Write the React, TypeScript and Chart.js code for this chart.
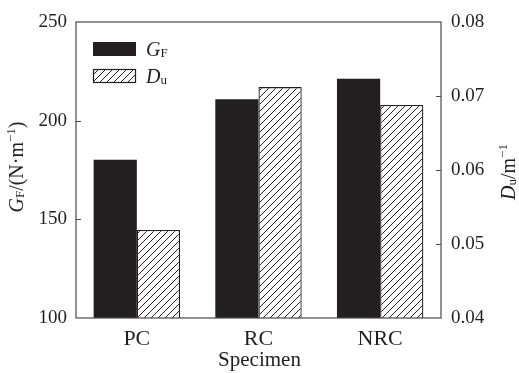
import React, { useEffect, useRef } from "react";
import { Chart, registerables } from "chart.js";

Chart.register(...registerables);

const categories = ["PC", "RC", "NRC"];
const gfValues = [180.2, 210.8, 221.3];
const duValues = [0.0519, 0.0712, 0.0688];
const gfTicks = [100, 150, 200, 250];
const duTicks = [0.04, 0.05, 0.06, 0.07, 0.08];

const INK = "#231f20";
const FRAME = "#4a4a4a";
const SERIF = "'Liberation Serif', 'Times New Roman', serif";

function makeHatch(): CanvasPattern | string {
  const s = 7;
  const c = document.createElement("canvas");
  c.width = s;
  c.height = s;
  const g = c.getContext("2d");
  if (!g) return "#fff";
  g.fillStyle = "#ffffff";
  g.fillRect(0, 0, s, s);
  g.strokeStyle = INK;
  g.lineWidth = 1;
  g.beginPath();
  g.moveTo(-1, s + 1);
  g.lineTo(s + 1, -1);
  g.moveTo(-1, 1);
  g.lineTo(1, -1);
  g.moveTo(s - 1, s + 1);
  g.lineTo(s + 1, s - 1);
  g.stroke();
  const p = g.createPattern(c, "repeat");
  return p || "#fff";
}

type Piece = { t: string; size: number; italic?: boolean; dy?: number };

function drawPieces(ctx: CanvasRenderingContext2D, pieces: Piece[], x: number, y: number, align: "left" | "center") {
  ctx.textBaseline = "alphabetic";
  ctx.textAlign = "left";
  let total = 0;
  const widths = pieces.map((p) => {
    ctx.font = `${p.italic ? "italic " : ""}${p.size}px ${SERIF}`;
    const w = ctx.measureText(p.t).width;
    total += w;
    return w;
  });
  let cx = align === "center" ? x - total / 2 : x;
  pieces.forEach((p, i) => {
    ctx.font = `${p.italic ? "italic " : ""}${p.size}px ${SERIF}`;
    ctx.fillText(p.t, cx, y + (p.dy || 0));
    cx += widths[i];
  });
}

const decorPlugin = {
  id: "decor",
  afterDraw(chart: any) {
    const ctx: CanvasRenderingContext2D = chart.ctx;
    const a = chart.chartArea;
    const ys = chart.scales.y;
    const y1 = chart.scales.y1;
    ctx.save();
    // frame
    ctx.strokeStyle = FRAME;
    ctx.lineWidth = 1.2;
    ctx.strokeRect(a.left, a.top, a.right - a.left, a.bottom - a.top);
    // inward ticks
    ctx.beginPath();
    gfTicks.slice(1, -1).forEach((v) => {
      const py = Math.round(ys.getPixelForValue(v)) + 0.5;
      ctx.moveTo(a.left, py);
      ctx.lineTo(a.left + 5, py);
    });
    duTicks.slice(1, -1).forEach((v) => {
      const py = Math.round(y1.getPixelForValue(v)) + 0.5;
      ctx.moveTo(a.right, py);
      ctx.lineTo(a.right - 5, py);
    });
    ctx.stroke();

    ctx.fillStyle = INK;
    // legend
    const lx = a.left + 17;
    const lw = 43;
    ctx.fillRect(lx, 42, lw, 14);
    const hatch = chart.data.datasets[1].backgroundColor;
    ctx.fillStyle = hatch;
    ctx.fillRect(lx, 69, lw, 14);
    ctx.strokeStyle = INK;
    ctx.lineWidth = 1.2;
    ctx.strokeRect(lx + 0.5, 69.5, lw - 1, 13);
    ctx.fillStyle = INK;
    drawPieces(ctx, [
      { t: "G", size: 20, italic: true },
      { t: "F", size: 13, dy: 1 },
    ], lx + lw + 10, 56, "left");
    drawPieces(ctx, [
      { t: "D", size: 20, italic: true },
      { t: "u", size: 13, dy: 1 },
    ], lx + lw + 10, 83, "left");

    // x title
    ctx.font = `21px ${SERIF}`;
    ctx.textAlign = "center";
    ctx.textBaseline = "alphabetic";
    ctx.fillText("Specimen", (a.left + a.right) / 2 + 1, 366);

    // left title
    ctx.save();
    ctx.translate(23, (a.top + a.bottom) / 2 - 3);
    ctx.rotate(-Math.PI / 2);
    drawPieces(ctx, [
      { t: "G", size: 20, italic: true },
      { t: "F", size: 13, dy: 1 },
      { t: "/(N\u00b7m", size: 20 },
      { t: "\u22121", size: 13, dy: -8 },
      { t: ")", size: 20 },
    ], 0, 0, "center");
    ctx.restore();

    // right title
    ctx.save();
    ctx.translate(515, (a.top + a.bottom) / 2 + 2);
    ctx.rotate(-Math.PI / 2);
    drawPieces(ctx, [
      { t: "D", size: 20, italic: true },
      { t: "u", size: 13, dy: 1 },
      { t: "/m", size: 20 },
      { t: "\u22121", size: 13, dy: -8 },
    ], 0, 0, "center");
    ctx.restore();

    ctx.restore();
  },
};

export default function App() {
  const ref = useRef<HTMLCanvasElement | null>(null);
  useEffect(() => {
    if (!ref.current) return;
    const hatch = makeHatch();
    const chart = new Chart(ref.current, {
      type: "bar",
      data: {
        labels: categories,
        datasets: [
          {
            label: "GF",
            data: gfValues,
            yAxisID: "y",
            backgroundColor: INK,
            borderWidth: 0,
            categoryPercentage: 0.71,
            barPercentage: 1.0,
          },
          {
            label: "Du",
            data: duValues,
            yAxisID: "y1",
            backgroundColor: hatch as any,
            borderColor: INK,
            borderWidth: 1.3,
            categoryPercentage: 0.71,
            barPercentage: 1.0,
          },
        ],
      },
      options: {
        responsive: false,
        animation: false,
        devicePixelRatio: 1,
        layout: { padding: { top: 22, left: 0, right: 0, bottom: 0 } },
        plugins: {
          legend: { display: false },
          tooltip: { enabled: false },
          title: { display: false },
        },
        scales: {
          x: {
            type: "category",
            grid: { display: false, drawTicks: false },
            border: { display: false },
            ticks: {
              color: INK,
              font: { family: SERIF, size: 22 },
              padding: 8,
            },
            afterFit: (s: any) => {
              s.height = 55;
            },
          },
          y: {
            type: "linear",
            position: "left",
            min: 100,
            max: 250,
            afterBuildTicks: (s: any) => {
              s.ticks = gfTicks.map((v) => ({ value: v }));
            },
            grid: { display: false, drawTicks: false },
            border: { display: false },
            ticks: {
              color: INK,
              font: { family: SERIF, size: 19 },
              padding: 9,
              callback: (v: any) => String(v),
            },
            afterFit: (s: any) => {
              s.width = 76;
            },
          },
          y1: {
            type: "linear",
            position: "right",
            min: 0.04,
            max: 0.08,
            afterBuildTicks: (s: any) => {
              s.ticks = duTicks.map((v) => ({ value: v }));
            },
            grid: { display: false, drawTicks: false },
            border: { display: false },
            ticks: {
              color: INK,
              font: { family: SERIF, size: 19 },
              padding: 10,
              callback: (v: any) => Number(v).toFixed(2),
            },
            afterFit: (s: any) => {
              s.width = 78;
            },
          },
        },
      },
      plugins: [decorPlugin],
    });
    return () => chart.destroy();
  }, []);
  return (
    <div style={{ position: "fixed", left: 0, top: 0, width: 519, height: 373, background: "#fff" }}>
      <canvas ref={ref} width={519} height={373} style={{ display: "block", width: 519, height: 373 }} />
    </div>
  );
}
